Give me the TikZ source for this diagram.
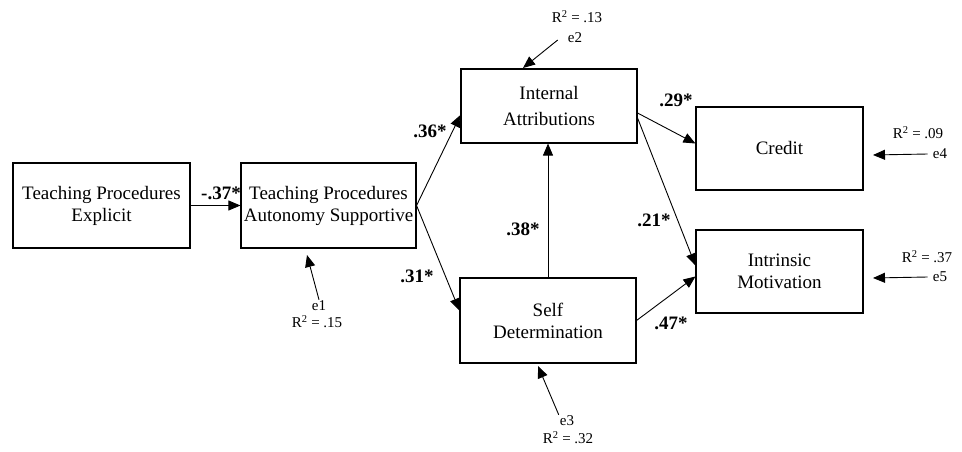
\documentclass[tikz,border=0pt]{standalone}
\usepackage{fontspec}
\setmainfont{Liberation Serif}
\usetikzlibrary{arrows.meta}

\tikzset{
    var/.style={draw, line width=1.1pt, align=center, inner sep=0pt, font=\fontsize{19}{22}\selectfont},
    arr/.style={-{Triangle[length=12pt,width=10pt]}, line width=0.9pt},
    coef/.style={inner sep=0pt, font=\fontsize{19}{22}\selectfont\bfseries},
    err/.style={inner sep=1pt, font=\fontsize{15}{17}\selectfont},
}

\begin{document}
\begin{tikzpicture}[x=1pt, y=-1pt]
    \useasboundingbox (0,0) rectangle (962,452);

    \node[var, minimum width=177pt, minimum height=85pt] (explicit) at (101.5,205.5) {Teaching Procedures\\Explicit};
    \node[var, minimum width=175pt, minimum height=85pt] (autonomy) at (328.5,205.5) {Teaching Procedures\\Autonomy Supportive};
    \node[var, minimum width=176pt, minimum height=74pt] (internal) at (549,106) {Internal\\[4pt]Attributions};
    \node[var, minimum width=176pt, minimum height=85pt] (selfdet) at (548,320.5) {Self\\Determination};
    \node[var, minimum width=167pt, minimum height=83pt] (credit) at (779.5,148.5) {Credit};
    \node[var, minimum width=167pt, minimum height=83pt] (intrinsic) at (779.5,271.5) {Intrinsic\\Motivation};

    \draw[arr] (explicit.east) -- (autonomy.west);
    \draw[arr] (autonomy.east) -- ([yshift=-9pt]internal.west);
    \draw[arr] (autonomy.east) -- ([yshift=10pt]selfdet.west);
    \draw[arr] (selfdet.north) -- (selfdet.north |- internal.south);
    \draw[arr] ([yshift=-7pt]internal.east) -- ([yshift=5pt]credit.west);
    \draw[arr] ([yshift=-12pt]internal.east) -- ([yshift=6pt]intrinsic.west);
    \draw[arr] (selfdet.east) -- ([yshift=-5pt]intrinsic.west);

    \node[coef] (b1) at (221,193) {-.37*};
    \node[coef] (b2) at (430,131) {.36*};
    \node[coef] (b3) at (417,276) {.31*};
    \node[coef] (b4) at (523,229) {.38*};
    \node[coef] (b5) at (676,100) {.29*};
    \node[coef] (b6) at (654,220) {.21*};
    \node[coef] (b7) at (671,323) {.47*};

    % disturbances
    \node[err] (e1) at (319,306) {e1};
    \node[err] (r1) at (317,322) {R\textsuperscript{2} = .15};
    \node[err] (e2) at (575,38) {e2};
    \node[err] (r2) at (577,17) {R\textsuperscript{2} = .13};
    \node[err] (e3) at (567,421) {e3};
    \node[err] (r3) at (568,438) {R\textsuperscript{2} = .32};
    \node[err] (e4) at (940,154) {e4};
    \node[err] (r4) at (918,133) {R\textsuperscript{2} = .09};
    \node[err] (e5) at (940,277) {e5};
    \node[err] (r5) at (927,257) {R\textsuperscript{2} = .37};

    \coordinate (t1) at (307,255);
    \coordinate (t2) at (523,68);
    \coordinate (t3) at (538,366);
    \coordinate (t4) at (873,155);
    \coordinate (t5) at (873,278);

    \draw[arr] (e1.north) -- (t1);
    \draw[arr] ([shift={(-9,2)}]e2.west) -- (t2);
    \draw[arr] (e3.north west) -- (t3);
    \draw[arr] ([xshift=-4pt]e4.west) -- (t4);
    \draw[arr] ([xshift=-4pt]e5.west) -- (t5);
\end{tikzpicture}
\end{document}
